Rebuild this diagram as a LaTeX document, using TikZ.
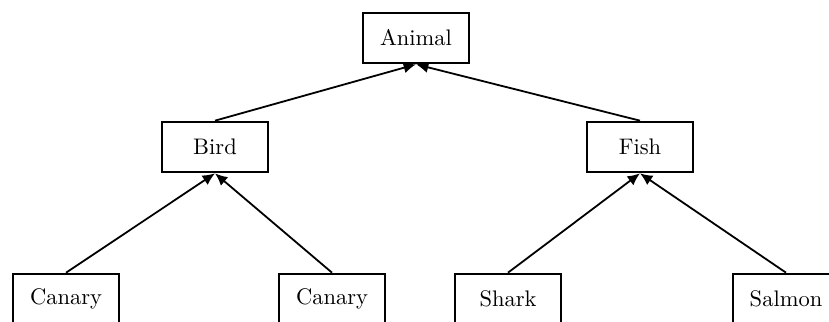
\documentclass[tikz,border=0pt]{standalone}
\usetikzlibrary{arrows.meta}
\begin{document}
\begin{tikzpicture}[x=0.4444pt,y=-0.4444pt,
  box/.style={draw,line width=0.9pt,minimum width=47.5pt,minimum height=22.5pt,inner sep=2pt},
  link/.style={line width=0.8pt,-{Latex[length=5.5pt,width=5pt]}}]
\useasboundingbox (0,0) rectangle (829,322);
\clip (0,0) rectangle (829,322);
\node[box] (animal) at (416,38) {Animal};
\node[box] (bird) at (215,147) {Bird};
\node[box] (fish) at (640,147) {Fish};
\node[box] (canary1) at (66,299) {Canary};
\node[box] (canary2) at (332,299) {Canary};
\node[box] (shark) at (508,299) {Shark};
\node[box] (salmon) at (786,299) {Salmon};
\draw[link] (bird.north) -- (animal.south);
\draw[link] (fish.north) -- (animal.south);
\draw[link] (canary1.north) -- (bird.south);
\draw[link] (canary2.north) -- (bird.south);
\draw[link] (shark.north) -- (fish.south);
\draw[link] (salmon.north) -- (fish.south);
\end{tikzpicture}
\end{document}
